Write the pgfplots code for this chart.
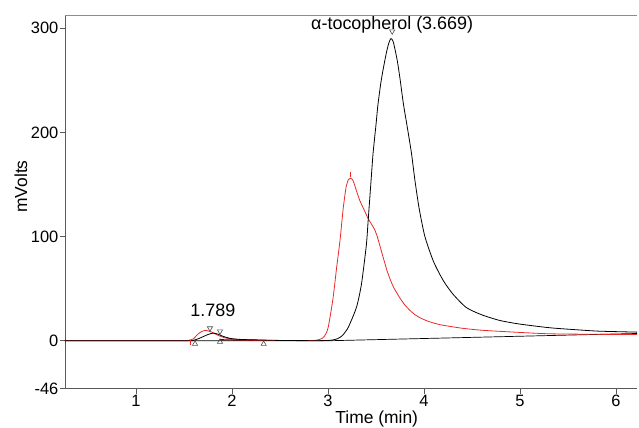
\documentclass[border=0pt]{standalone}
\usepackage{fontspec}
\setmainfont{Liberation Sans}
\usepackage{pgfplots}
\pgfplotsset{compat=1.18}
\definecolor{trred}{RGB}{235,40,40}
\begin{document}
\begin{tikzpicture}
\begin{axis}[
 scale only axis, width=572bp, height=373bp,
 xmin=0.26, xmax=6.22, ymin=-46, ymax=312,
 enlargelimits=false,
 axis lines=left, axis line style={-, draw=black!65, line width=0.8pt},
 xtick={1,2,3,4,5,6}, ytick={-46,0,100,200,300},
 tick align=outside, major tick length=5bp,
 tick style={draw=black!65, line width=0.7pt},
 ticklabel style={font=\fontsize{16.5}{18}\selectfont},
 xticklabel style={inner sep=1bp},
 yticklabel style={inner sep=1.5bp},
 /pgf/number format/assume math mode=true,
 xlabel={Time (min)}, ylabel={mVolts},
 label style={font=\fontsize{17.5}{19}\selectfont},
 xlabel style={at={(axis description cs:0.545,-0.094)}, anchor=base},
 ylabel style={at={(axis description cs:-0.077,0.542)}, anchor=center},
 clip=false,
]
% baseline
\addplot[black, line width=0.7pt] coordinates {(0.26,0) (3.0,0) (6.22,7)};
% small-peak baselines
\addplot[black!60!red, line width=1.1pt] coordinates {(1.875,1) (2.0,0.8) (2.33,0.3)};
% red trace
\addplot[trred, line width=0.8pt, smooth, tension=0.4] coordinates {
(0.26,0) (1.45,0) (1.55,0.5) (1.6,2) (1.63,5) (1.667,8) (1.72,10) (1.79,8.3)
(1.86,5) (1.92,3) (1.98,2) (2.1,1) (2.3,0.5) (2.6,0.2) (2.85,0.3) (2.92,1.5) (2.96,4)
(3.0,12) (3.05,39) (3.09,70) (3.125,96) (3.16,128) (3.19,148) (3.215,155) (3.236,156)
(3.26,154) (3.29,146) (3.33,135) (3.38,125) (3.42,117) (3.46,111) (3.49,106) (3.52,98)
(3.56,85) (3.62,66) (3.68,52) (3.75,41) (3.8,34.5) (3.85,29.5) (3.9,25.5) (3.96,22)
(4.05,18.5) (4.17,15.4) (4.4,12) (4.62,10) (5.0,8) (5.31,6.7) (5.8,6.2) (6.22,6)};
% black trace
\addplot[black, line width=0.8pt, smooth, tension=0.4] coordinates {
(0.26,0) (1.5,0) (1.6,0.5) (1.65,2) (1.7,4) (1.75,6) (1.8,7.3) (1.85,6.5)
(1.9,4.5) (1.95,3) (2.0,2) (2.1,1.2) (2.2,1) (2.4,0.5) (2.6,0.2) (2.9,0.1)
(3.0,0.3) (3.05,0.8) (3.1,2) (3.15,5) (3.2,11) (3.23,16.6) (3.3,33) (3.35,55)
(3.4,92) (3.42,117) (3.45,155) (3.47,180) (3.5,207) (3.52,226) (3.55,247)
(3.576,261) (3.61,277) (3.635,286) (3.656,290) (3.68,287) (3.72,270) (3.75,252)
(3.785,228) (3.83,203) (3.87,180) (3.906,154) (3.95,127) (4.01,100) (4.1,76)
(4.2,58) (4.3,45) (4.44,32) (4.6,25) (4.79,19.5) (5.0,16) (5.31,12.5)
(5.6,10.5) (5.83,9.2) (6.22,8.3)};
% peak / integration markers
\addplot[only marks, mark=triangle, mark size=3pt, black!70, mark options={line width=0.6pt}]
 coordinates {(1.615,-3) (1.875,-1) (2.33,-3)};
\addplot[only marks, mark=triangle, mark size=3pt, black!70, mark options={rotate=180, line width=0.6pt}]
 coordinates {(1.77,12) (1.875,9) (3.669,297)};
\addplot[only marks, mark=|, mark size=2.5pt, trred, mark options={line width=0.6pt}]
 coordinates {(3.236,160) (1.57,-2)};
\node[font=\fontsize{18}{20}\selectfont] at (axis cs:3.669,303) {α-tocopherol (3.669)};
\node[font=\fontsize{18}{20}\selectfont] at (axis cs:1.80,29) {1.789};
\draw[black!45, line width=0.8pt] (rel axis cs:0,1) -- (rel axis cs:1,1);
\end{axis}
\pgfresetboundingbox
\path ([shift={(-65bp,-39bp)}]current axis.south west) rectangle ([shift={(2bp,15.7bp)}]current axis.north east);
\end{tikzpicture}
\end{document}
